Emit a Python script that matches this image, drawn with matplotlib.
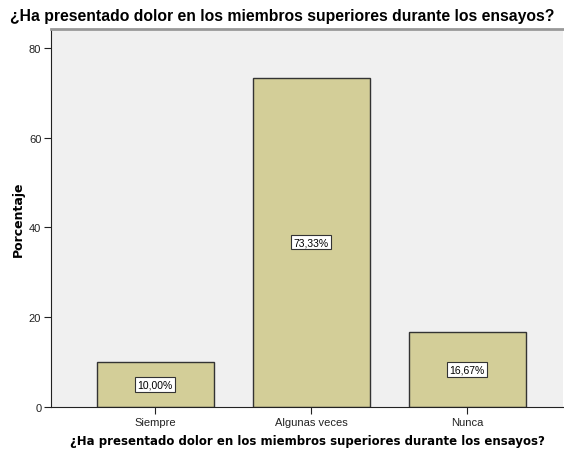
import matplotlib.pyplot as plt

# datos
categorias = ["Siempre", "Algunas veces", "Nunca"]
porcentajes = [10.00, 73.33, 16.67]
etiquetas = ["10,00%", "73,33%", "16,67%"]
y_ticks = [0, 20, 40, 60, 80]

titulo = "¿Ha presentado dolor en los miembros superiores durante los ensayos?"

plt.rcParams['font.family'] = ['Liberation Sans', 'DejaVu Sans']

fig = plt.figure(figsize=(5.64, 4.52), dpi=100)
ax = fig.add_axes([51 / 564, 44 / 452, 512 / 564, 378 / 452])
ax.set_facecolor('#F0F0F0')

x = list(range(len(categorias)))
ax.bar(x, porcentajes, width=0.75, color='#D3CE98', edgecolor='#333333', linewidth=1.0, zorder=2)

# etiquetas en caja
for xi, v, lab in zip(x, porcentajes, etiquetas):
    ax.text(xi, v / 2, lab, ha='center', va='center', fontsize=7.5, color='black', zorder=3,
            bbox=dict(boxstyle='square,pad=0.2', facecolor='white', edgecolor='#333333', linewidth=0.8))

ax.set_xlim(-0.667, 2.615)
ax.set_ylim(0, 84.2)
ax.set_xticks(x)
ax.set_xticklabels(categorias, fontsize=8, color='#222222')
ax.set_yticks(y_ticks)
ax.set_yticklabels([str(t) for t in y_ticks], fontsize=8, color='#222222')
ax.tick_params(axis='both', direction='out', length=5, width=0.8, color='#222222', pad=2)

ax.spines['right'].set_visible(False)
ax.spines['top'].set_color('#999999')
ax.spines['top'].set_linewidth(2)
ax.spines['left'].set_color('#222222')
ax.spines['bottom'].set_color('#222222')

ax.set_ylabel("Porcentaje", fontsize=9, fontweight='bold', family=['DejaVu Sans'], labelpad=3)
ax.set_xlabel(titulo, fontsize=8.5, fontweight='bold', family=['DejaVu Sans'], labelpad=5)

fig.text(10 / 564, 1 - 17 / 452, titulo, ha='left', va='center', fontsize=11.3, fontweight='bold')

fig.savefig("out.png", dpi=100)
